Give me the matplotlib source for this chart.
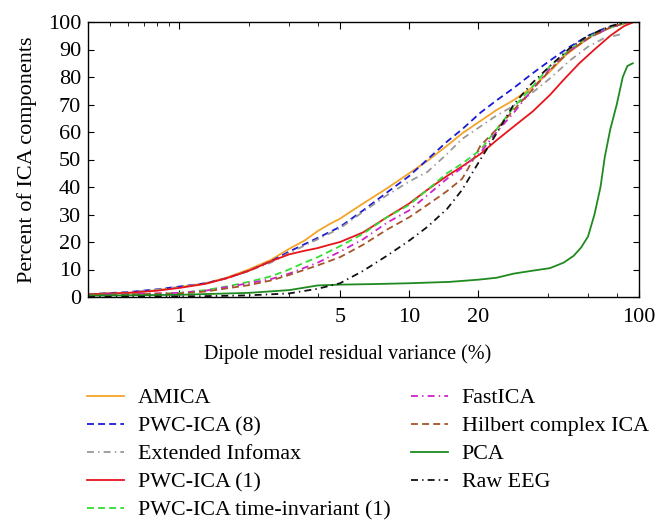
import matplotlib
matplotlib.use("Agg")
import matplotlib.pyplot as plt
from matplotlib.ticker import FixedLocator, FixedFormatter, NullFormatter

plt.rcParams['font.family'] = ['Liberation Serif', 'DejaVu Serif']
plt.rcParams['lines.scale_dashes'] = False

# residual variance (%) vs percent of ICA components
amica_x = [0.4, 0.6, 0.8, 1.0, 1.3, 1.6, 2.0, 2.5, 3.0, 3.5, 4.0, 4.5, 5.0, 6.3, 8, 10, 12, 14.6, 17, 20.4, 24, 28.5, 34, 41, 48, 55.7, 65, 78, 92]
amica_y = [1, 1.5, 2.5, 3.6, 5, 7, 10, 13.5, 17.5, 20.5, 24, 26.5, 28.5, 34, 39.5, 45, 49.5, 55, 59.5, 64, 68, 71.6, 76, 82, 88, 92, 96, 98.5, 100]

pwc8_x = [0.4, 0.6, 0.8, 1, 1.3, 1.6, 2, 2.5, 3, 4, 5, 6.3, 8, 10, 12, 14.6, 17, 20.4, 24, 28.5, 34, 41, 50, 60, 70, 85, 92]
pwc8_y = [1, 1.8, 2.8, 3.8, 5, 6.8, 9.5, 13, 16.5, 21.5, 25.5, 31.5, 38, 44, 50, 56.5, 61, 67, 71.5, 76, 81, 86, 91, 95, 97.5, 99.5, 100]

infomax_x = [0.4, 0.6, 0.8, 1, 1.3, 1.6, 2, 2.5, 3, 4, 5, 6.3, 8, 10, 12, 14.6, 17, 20.4, 24, 28.5, 34, 41, 50, 60, 70, 83]
infomax_y = [1, 1.7, 2.7, 3.6, 5, 6.8, 9.5, 12.5, 16, 21, 25, 31, 37, 42, 45.5, 52, 57.5, 62, 66, 69.5, 74, 79.5, 86, 91, 94, 95.5]

pwc1_x = [0.4, 0.6, 0.8, 1, 1.3, 1.6, 2, 2.5, 3, 3.5, 4, 4.5, 5, 6.3, 8, 10, 12, 14.6, 17, 20.4, 24, 28.5, 34.5, 41, 47, 55, 64, 75, 86, 95]
pwc1_y = [1, 1.5, 2.3, 3.3, 4.8, 6.8, 9.5, 13, 15.5, 16.8, 17.8, 19, 20, 23.5, 29, 34, 39, 44, 47.5, 52, 57, 62, 67.5, 73.5, 79, 85, 90, 95, 98.5, 100]

pwcti_x = [0.4, 0.7, 1, 1.3, 1.6, 2, 2.5, 3, 3.5, 4, 5, 6.3, 8, 10, 12, 14.6, 17, 20.4, 24, 28.5, 34, 41, 50, 60, 75, 90]
pwcti_y = [0.8, 1, 1.5, 2.5, 3.8, 5.5, 7.5, 10, 12.5, 14.5, 18.5, 23, 29, 33.5, 39, 45, 48.5, 53.5, 61, 69, 76, 84, 90, 94.5, 98, 100]

fastica_x = [0.4, 1, 1.3, 2, 2.5, 3, 4, 5, 6.3, 8, 10, 12, 14.6, 17, 20.4, 24, 28.5, 34, 41, 50, 60, 75, 90]
fastica_y = [0.8, 1.5, 2.3, 5, 6.5, 8.5, 12.5, 16.5, 21, 27, 31.5, 37, 43, 47, 52.5, 60, 67, 75, 83, 89.5, 94, 98, 100]

hilbert_x = [0.4, 1, 1.3, 2, 2.5, 3, 4, 5, 6.3, 8, 10, 12, 14.6, 17, 19, 20.4, 24, 28.5, 34, 41, 50, 60, 75, 90]
hilbert_y = [0.8, 1.2, 2, 4.3, 6, 8, 11.5, 14.5, 19, 24.5, 29, 33.5, 38.5, 43, 50, 55, 61, 68, 75, 82.5, 89.5, 94, 98, 100]

pca_x = [0.4, 1, 2, 3, 4, 5, 7, 10, 15, 20, 24, 28.5, 34, 41, 47, 52, 56, 60, 64, 68, 71, 75, 80, 85, 89, 94]
pca_y = [0.5, 0.8, 1.5, 2.5, 4.2, 4.5, 4.7, 5, 5.5, 6.3, 7, 8.5, 9.5, 10.5, 12.5, 15, 18, 22, 30, 40, 51, 61, 70, 80, 84, 85]

raw_x = [0.4, 1, 1.5, 2, 3, 4, 5, 6.3, 8, 10, 12, 14.6, 17, 20.4, 24, 28.5, 34, 41, 50, 60, 75, 88]
raw_y = [0, 0.2, 0.4, 0.6, 1.3, 3, 5, 9.5, 15, 20.5, 25.5, 32, 39, 50, 59.5, 70, 77.5, 84, 90.5, 95, 98.5, 100]

x_major = [1, 5, 10, 20, 100]
x_minor = [0.5, 0.6, 0.7, 0.8, 0.9, 2, 3, 4, 40, 60, 80]

fig = plt.figure(figsize=(6.68, 5.32), dpi=100)
ax = fig.add_axes([88 / 668, 1 - 297 / 532, 551 / 668, 275 / 532])

lw = 1.3
ax.plot(amica_x, amica_y, color="#f5a42a", lw=lw, label="AMICA")
ax.plot(pwc8_x, pwc8_y, color="#1a1ad6", lw=lw, dashes=(5, 3), label="PWC-ICA (8)")
ax.plot(infomax_x, infomax_y, color="#999999", lw=lw, dashes=(5, 3, 1, 3), label="Extended Infomax")
ax.plot(pwc1_x, pwc1_y, color="#e8141c", lw=lw, label="PWC-ICA (1)")
ax.plot(pwcti_x, pwcti_y, color="#33dd33", lw=lw, dashes=(5, 3), label="PWC-ICA time-invariant (1)")
ax.plot(fastica_x, fastica_y, color="#cc22cc", lw=lw, dashes=(5, 3, 1, 3), label="FastICA")
ax.plot(hilbert_x, hilbert_y, color="#a5552a", lw=lw, dashes=(5, 3), label="Hilbert complex ICA")
ax.plot(pca_x, pca_y, color="#1f8a1f", lw=lw, label="PCA")
ax.plot(raw_x, raw_y, color="#111111", lw=lw, dashes=(5, 3, 1, 3), label="Raw EEG")

ax.set_xscale("log")
ax.set_xlim(0.4, 100)
ax.set_ylim(0, 100)
ax.xaxis.set_major_locator(FixedLocator(x_major))
ax.xaxis.set_major_formatter(FixedFormatter([str(v) for v in x_major]))
ax.xaxis.set_minor_locator(FixedLocator(x_minor))
ax.xaxis.set_minor_formatter(NullFormatter())
ax.set_yticks(range(0, 101, 10))

ax.tick_params(which="both", direction="in", top=True, right=True, labelsize=16)
ax.tick_params(axis="x", which="major", length=5, pad=8)
ax.tick_params(axis="x", which="minor", length=3)
ax.tick_params(axis="y", which="major", length=4, pad=5)
for s in ax.spines.values():
    s.set_linewidth(1.0)

ax.set_xlabel("Dipole model residual variance (%)", fontsize=14.5)
ax.xaxis.set_label_coords(0.472, -0.172)
ax.set_ylabel("Percent of ICA components", fontsize=16)
ax.yaxis.set_label_coords(-0.093, 0.5)

fig.legend(loc="upper left", bbox_to_anchor=(87 / 668, 1 - 388 / 532), ncol=2,
           frameon=False, fontsize=15.8, handlelength=1.7, handletextpad=0.63,
           labelspacing=0.35, columnspacing=0.9, borderpad=0, borderaxespad=0)

fig.savefig("out.png", dpi=100)
